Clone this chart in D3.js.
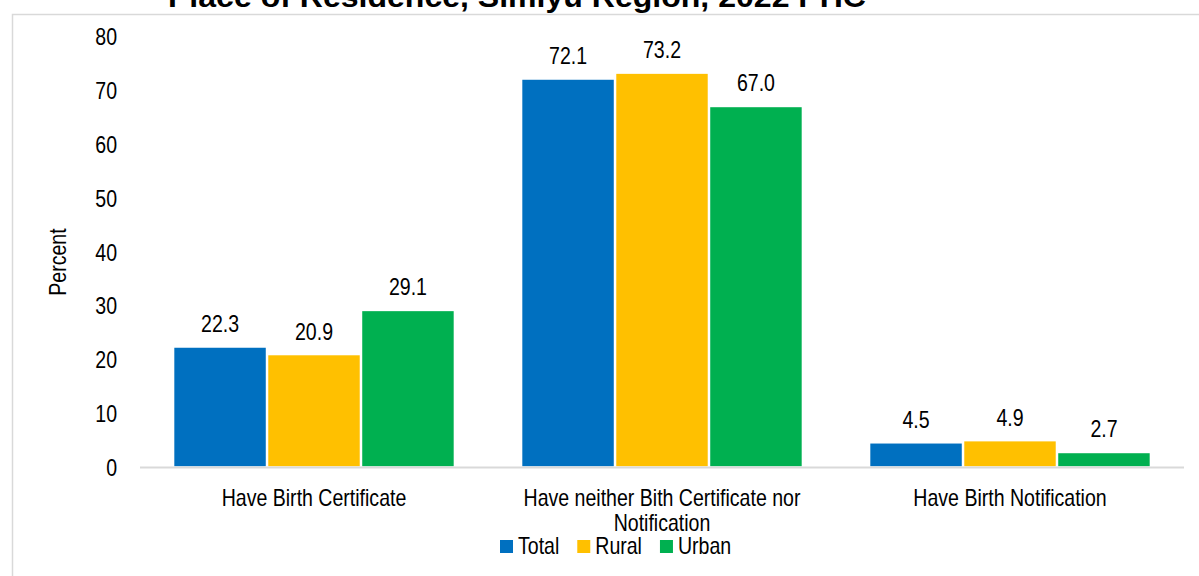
<!DOCTYPE html>
<html>
<head>
<meta charset="utf-8">
<script src="https://cdn.jsdelivr.net/npm/d3@7"></script>
<style>
  html, body { margin: 0; padding: 0; background: #ffffff; }
  svg { display: block; font-family: "Liberation Sans", Arial, sans-serif; }
</style>
</head>
<body>
<svg id="chart" width="1199" height="576"></svg>
<script>
// Birth registration status by place of residence
const categories = [
  "Have Birth Certificate",
  "Have neither Bith Certificate nor Notification",
  "Have Birth Notification"
];
const seriesNames = ["Total", "Rural", "Urban"];
const totalValues = [22.3, 72.1, 4.5];
const ruralValues = [20.9, 73.2, 4.9];
const urbanValues = [29.1, 67.0, 2.7];
const yTicks = [0, 10, 20, 30, 40, 50, 60, 70, 80];
const titleText = "Place of Residence, Simiyu Region, 2022 PHC";
const yLabel = "Percent";

const colors = { Total: "#0070C0", Rural: "#FFC000", Urban: "#00B050" };
const seriesValues = { Total: totalValues, Rural: ruralValues, Urban: urbanValues };

const NARROW = 0.85;   // horizontal squeeze for the condensed Arial look
const FONT = 23;

const svg = d3.select("#chart");

// outer chart frame
svg.append("rect")
  .attr("x", 12.5).attr("y", 14.5)
  .attr("width", 1400).attr("height", 800)
  .attr("fill", "none").attr("stroke", "#d9d9d9").attr("stroke-width", 1.5);

// title (top part runs off the page)
svg.append("text")
  .attr("x", 168).attr("y", 7)
  .attr("textLength", 698).attr("lengthAdjust", "spacingAndGlyphs")
  .attr("font-size", 30).attr("font-weight", "bold").attr("fill", "#000")
  .text(titleText);

const plotLeft = 140, plotRight = 1184;
const y = d3.scaleLinear().domain([0, 80]).range([467, 36.5]);
const x0 = d3.scaleBand().domain(categories).range([plotLeft, plotRight])
  .paddingInner(0.19).paddingOuter(0.095);
const x1 = d3.scaleBand().domain(seriesNames).range([0, x0.bandwidth()]);

// helper: place condensed text
function narrowText(sel, x, yPos) {
  return sel.attr("transform", `translate(${x},${yPos}) scale(${NARROW},1)`);
}

// y axis (labels only)
const yAxis = svg.append("g")
  .attr("transform", `translate(${plotLeft},0)`)
  .call(d3.axisLeft(y).tickValues(yTicks).tickFormat(d3.format("d")).tickSize(0));
yAxis.select(".domain").remove();
yAxis.selectAll("text")
  .attr("x", -23 / NARROW)
  .attr("dy", "0.36em")
  .attr("transform", `scale(${NARROW},1)`)
  .attr("font-size", FONT)
  .attr("font-family", "Liberation Sans, Arial, sans-serif")
  .attr("fill", "#000");

// y axis title
svg.append("text")
  .attr("transform", `translate(66,262) rotate(-90) scale(${NARROW},1)`)
  .attr("text-anchor", "middle")
  .attr("font-size", FONT).attr("fill", "#000")
  .text(yLabel);

// bars
const groups = svg.append("g").selectAll("g")
  .data(categories)
  .join("g")
  .attr("transform", d => `translate(${x0(d)},0)`);

groups.selectAll("rect")
  .data((c, i) => seriesNames.map(s => ({ s, v: seriesValues[s][i] })))
  .join("rect")
  .attr("x", d => x1(d.s) + 0.5)
  .attr("width", x1.bandwidth() - 1)
  .attr("y", d => y(d.v))
  .attr("height", d => y(0) - y(d.v))
  .attr("fill", d => colors[d.s])
  .attr("stroke", "#ffffff").attr("stroke-width", 1.5);

// value labels
groups.selectAll("text")
  .data((c, i) => seriesNames.map(s => ({ s, v: seriesValues[s][i] })))
  .join("text")
  .each(function (d) {
    narrowText(d3.select(this), x1(d.s) + x1.bandwidth() / 2, y(d.v) - 15);
  })
  .attr("text-anchor", "middle")
  .attr("font-size", FONT).attr("fill", "#000")
  .text(d => d.v.toFixed(1));

// baseline
svg.append("line")
  .attr("x1", plotLeft).attr("x2", plotRight)
  .attr("y1", y(0) + 0.5).attr("y2", y(0) + 0.5)
  .attr("stroke", "#d9d9d9").attr("stroke-width", 2);

// category labels, wrapped to the band width
const maxLabelWidth = 300;
categories.forEach(c => {
  const t = svg.append("text")
    .attr("text-anchor", "middle")
    .attr("font-size", FONT).attr("fill", "#000");
  narrowText(t, x0(c) + x0.bandwidth() / 2, 505.5);
  const words = c.split(" ");
  let line = [], lineNo = 0;
  let tspan = t.append("tspan").attr("x", 0).attr("dy", 0);
  words.forEach(w => {
    line.push(w);
    tspan.text(line.join(" "));
    if (tspan.node().getComputedTextLength() * NARROW > maxLabelWidth && line.length > 1) {
      line.pop();
      tspan.text(line.join(" "));
      line = [w];
      lineNo++;
      tspan = t.append("tspan").attr("x", 0).attr("dy", 25.5).text(w);
    }
  });
});

// legend
const legend = svg.append("g");
let lx = 500;
seriesNames.forEach(s => {
  legend.append("rect")
    .attr("x", lx).attr("y", 540).attr("width", 13).attr("height", 13)
    .attr("fill", colors[s]);
  const t = legend.append("text")
    .attr("font-size", FONT).attr("fill", "#000")
    .text(s);
  narrowText(t, lx + 18, 554);
  lx += 18 + t.node().getComputedTextLength() * NARROW + 18;
});
</script>
</body>
</html>
